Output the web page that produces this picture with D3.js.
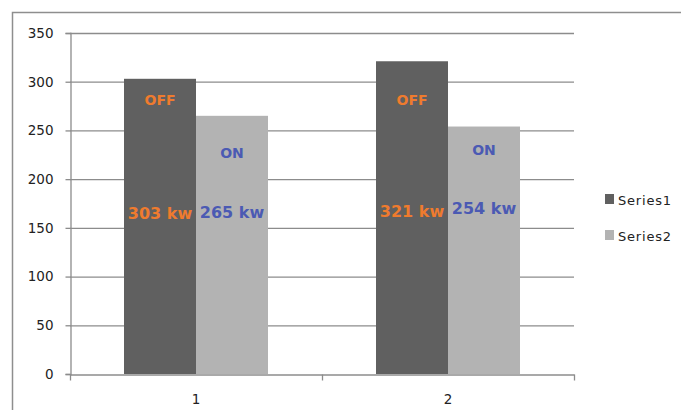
<!DOCTYPE html>
<html>
<head>
<meta charset="utf-8">
<script src="https://cdn.jsdelivr.net/npm/d3@7"></script>
<style>
  html, body { margin: 0; padding: 0; background: #fff; overflow: hidden; }
  svg { display: block; }
</style>
</head>
<body>
<svg id="chart" width="681" height="410"></svg>
<script>
// Data
const categories = ["1", "2"];
const seriesNames = ["Series1", "Series2"];
const series1 = [303, 321];
const series2 = [265, 254];
const yTicks = [0, 50, 100, 150, 200, 250, 300, 350];
const stateLabels = ["OFF", "ON"];
const unit = "kw";

const seriesValues = [series1, series2];
const barColors = ["#606060", "#b3b3b3"];
const labelColors = ["#ef7b2e", "#4b5ab3"];

const svg = d3.select("#chart");

// Chart area frame (extends past the window edges)
svg.append("rect")
  .attr("x", 12.5).attr("y", 12.5)
  .attr("width", 720).attr("height", 440)
  .attr("fill", "none").attr("stroke", "#8e8e8e").attr("stroke-width", 1.5);

const plot = { left: 70, right: 574, top: 33, bottom: 374 };

const x = d3.scaleBand()
  .domain(categories)
  .range([plot.left, plot.right])
  .paddingInner(0).paddingOuter(0);

// Gap width of 150%: outer gap = 0.75 bar width on each side
const inner = d3.scaleBand()
  .domain(seriesNames)
  .range([0, x.bandwidth()])
  .paddingInner(0)
  .paddingOuter(0.75);

const y = d3.scaleLinear().domain([0, 350]).range([plot.bottom, plot.top]);

// Gridlines
svg.append("g")
  .selectAll("line")
  .data(yTicks.filter(d => d > 0))
  .join("line")
  .attr("x1", plot.left).attr("x2", plot.right)
  .attr("y1", d => y(d) + 0.5).attr("y2", d => y(d) + 0.5)
  .attr("stroke", "#8c8c8c").attr("stroke-width", 1.3);

// Bars
const groups = svg.append("g")
  .selectAll("g")
  .data(categories)
  .join("g")
  .attr("transform", d => `translate(${x(d)},0)`);

groups.selectAll("rect")
  .data((c, i) => seriesNames.map((s, j) => ({ s, j, v: seriesValues[j][i] })))
  .join("rect")
  .attr("x", d => inner(d.s))
  .attr("width", inner.bandwidth())
  .attr("y", d => y(d.v))
  .attr("height", d => y(0) - y(d.v))
  .attr("fill", d => barColors[d.j]);

// Y axis
const yAxis = d3.axisLeft(y).tickValues(yTicks).tickSize(5).tickPadding(12);
const yg = svg.append("g")
  .attr("transform", `translate(${plot.left + 0.5},0)`)
  .call(yAxis);
yg.select(".domain").attr("stroke", "#8c8c8c").attr("stroke-width", 1.3);
yg.selectAll(".tick line").attr("stroke", "#8c8c8c").attr("stroke-width", 1.3);
yg.selectAll(".tick text")
  .attr("fill", "#222")
  .style("font-family", "'DejaVu Sans', Verdana, sans-serif")
  .style("font-size", "13.5px");

// X axis
const xAxis = d3.axisBottom(x).tickSize(0).tickPadding(20);
const xg = svg.append("g")
  .attr("transform", `translate(0,${plot.bottom + 0.5})`)
  .call(xAxis);
xg.select(".domain").attr("stroke", "#8c8c8c").attr("stroke-width", 1.3);
xg.selectAll(".tick text")
  .attr("fill", "#222")
  .style("font-family", "'DejaVu Sans', Verdana, sans-serif")
  .style("font-size", "13.5px");
// Category boundary tick marks
xg.append("g")
  .selectAll("line")
  .data([plot.left, ...categories.map(c => x(c) + x.bandwidth())])
  .join("line")
  .attr("x1", d => d + 0.5).attr("x2", d => d + 0.5)
  .attr("y1", 0).attr("y2", 6)
  .attr("stroke", "#8c8c8c").attr("stroke-width", 1.3);

// State and power annotations inside the bars
const annotFont = "'DejaVu Sans', Verdana, sans-serif";
const stateY = [[100, 153], [100, 150]];
const valueY = [[213, 212], [211, 208]];
categories.forEach((c, i) => {
  seriesNames.forEach((s, j) => {
    const cx = x(c) + inner(s) + inner.bandwidth() / 2;
    svg.append("text")
      .attr("x", cx).attr("y", stateY[i][j])
      .attr("text-anchor", "middle").attr("dominant-baseline", "central")
      .attr("fill", labelColors[j])
      .style("font-family", annotFont).style("font-weight", "bold")
      .style("font-size", "14px")
      .text(stateLabels[j]);
    svg.append("text")
      .attr("x", cx).attr("y", valueY[i][j])
      .attr("text-anchor", "middle").attr("dominant-baseline", "central")
      .attr("fill", labelColors[j])
      .style("font-family", annotFont).style("font-weight", "bold")
      .style("font-size", "16px")
      .text(`${seriesValues[j][i]} ${unit}`);
  });
});

// Legend
const legend = svg.append("g").attr("transform", "translate(605,194)");
const items = legend.selectAll("g")
  .data(seriesNames)
  .join("g")
  .attr("transform", (d, i) => `translate(0,${i * 36})`);
items.append("rect")
  .attr("width", 9).attr("height", 10)
  .attr("fill", (d, i) => barColors[i]);
items.append("text")
  .attr("x", 13).attr("y", 6)
  .attr("dominant-baseline", "central")
  .attr("fill", "#222")
  .style("font-family", "'DejaVu Sans', Verdana, sans-serif")
  .style("font-size", "13px")
  .style("letter-spacing", "0.8px")
  .text(d => d);
</script>
</body>
</html>
